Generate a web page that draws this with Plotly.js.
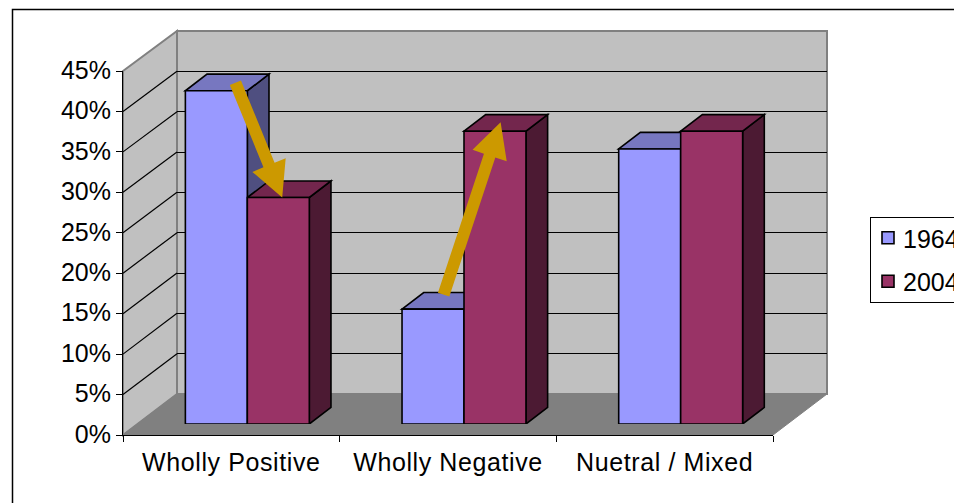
<!DOCTYPE html>
<html>
<head>
<meta charset="utf-8">
<script src="https://cdn.plot.ly/plotly-3.0.1.min.js"></script>
<style>
  html, body { margin: 0; padding: 0; background: #fff; overflow: hidden; width: 954px; height: 503px; }
  #chart { width: 1000px; height: 560px; }
  .x2tick text { letter-spacing: 0.6px; }
  .legend .bg { height: 85px; }
  .legend .legendtext { transform: translate(-8px, -3px); }
  .legend .legendpoints { transform: translate(-3px, -3px); }
</style>
</head>
<body>
<div id="chart"></div>
<script>
// Attitudes by year, percentage of coverage in each tone
const categories = ['Wholly Positive', 'Wholly Negative', 'Nuetral / Mixed'];
const years = ['1964', '2004'];
const values1964 = [41.2, 14.2, 34];
const values2004 = [28, 36.2, 36.2];
const yTicks = [0, 5, 10, 15, 20, 25, 30, 35, 40, 45];

// Trend arrows: category position and percentage at tail and tip
const arrowTails = [[-0.055, 42.2], [0.906, 16.0]];
const arrowTips = [[0.161, 28.0], [1.169, 37.3]];

const W = 1000, H = 560;
const FONT = 'Liberation Sans, Arial, sans-serif';

// Drawing planes of the fake-3D box, in page pixels
const front = { l: 123, r: 773, b: 435, t: 71 };
const back = { l: 177, r: 827, b: 394, t: 31 };
const barPlane = { l: 139, r: 789, b: 424, t: 60 };

const fx = p => p / W;
const fy = p => 1 - p / H;
const domX = q => [fx(q.l), fx(q.r)];
const domY = q => [fy(q.b), fy(q.t)];
const yPx = (q, v) => q.b + (q.t - q.b) * v / 45;

const BAR_WIDTH = 0.286;
const DEPTH_X = 0.1, DEPTH_Y = 2.05;
const faces = [
  { fill: '#9999FF', top: '#7777C0', side: '#4F4F80' },
  { fill: '#993366', top: '#73264D', side: '#4C1A33' }
];

function poly(points, fill, lineColor, lineWidth) {
  const d = points.map((p, i) => (i ? 'L' : 'M') + fx(p[0]) + ',' + fy(p[1])).join(' ') + ' Z';
  return {
    type: 'path', xref: 'paper', yref: 'paper', layer: 'below', path: d,
    fillcolor: fill, line: { color: lineColor, width: lineWidth }
  };
}

function segment(x0, y0, x1, y1, color, width) {
  return {
    type: 'line', xref: 'paper', yref: 'paper', layer: 'below',
    x0: fx(x0), y0: fy(y0), x1: fx(x1), y1: fy(y1), line: { color: color, width: width }
  };
}

const shapes = [];

// Outer chart-area frame, running past the right and bottom of the page
shapes.push(poly([[12.5, 9.5], [1100, 9.5], [1100, 700], [12.5, 700]], '#FFFFFF', '#000000', 1.5));

// Walls and floor
shapes.push(poly([[back.l, back.t], [back.r, back.t], [back.r, back.b], [back.l, back.b]], '#C0C0C0', '#808080', 2));
shapes.push(poly([[front.l, front.t], [back.l, back.t], [back.l, back.b], [front.l, front.b]], '#C0C0C0', '#808080', 2));
shapes.push(poly([[front.l, front.b], [back.l, back.b], [back.r, back.b], [front.r, front.b]], '#808080', '#808080', 1));

// Side-wall gridlines slanting from the front axis to the back wall
yTicks.slice(1, -1).forEach(v => {
  shapes.push(segment(front.l, yPx(front, v), back.l, yPx(back, v), '#000000', 1.2));
});

// Depth faces of each bar, drawn through the bar axes
function depthFaces(vals, seriesIndex) {
  vals.forEach((v, i) => {
    const left = i - BAR_WIDTH + seriesIndex * BAR_WIDTH;
    const right = left + BAR_WIDTH;
    const common = { type: 'path', xref: 'x3', yref: 'y3', layer: 'below', line: { color: '#000000', width: 1.6 } };
    shapes.push(Object.assign({}, common, {
      fillcolor: faces[seriesIndex].side,
      path: `M${right},0 L${right + DEPTH_X},${DEPTH_Y} L${right + DEPTH_X},${v + DEPTH_Y} L${right},${v} Z`
    }));
    shapes.push(Object.assign({}, common, {
      fillcolor: faces[seriesIndex].top,
      path: `M${left},${v} L${left + DEPTH_X},${v + DEPTH_Y} L${right + DEPTH_X},${v + DEPTH_Y} L${right},${v} Z`
    }));
  });
}
depthFaces(values1964, 0);
depthFaces(values2004, 1);

// Block arrows over the bars
const catPx = c => barPlane.l + (c + 0.5) * (barPlane.r - barPlane.l) / 3;
function blockArrow(tail, tip) {
  const a = [catPx(tail[0]), yPx(barPlane, tail[1])];
  const b = [catPx(tip[0]), yPx(barPlane, tip[1])];
  const len = Math.hypot(b[0] - a[0], b[1] - a[1]);
  const u = [(b[0] - a[0]) / len, (b[1] - a[1]) / len];
  const n = [-u[1], u[0]];
  const shaft = 6, head = 18, headLen = 35;
  const at = (along, across) => [a[0] + u[0] * along + n[0] * across, a[1] + u[1] * along + n[1] * across];
  const base = len - headLen;
  const s = poly([at(0, shaft), at(base, shaft), at(base, head), at(len, 0), at(base, -head), at(base, -shaft), at(0, -shaft)],
    '#CC9900', '#CC9900', 0);
  s.layer = 'above';
  return s;
}
arrowTails.forEach((t, i) => shapes.push(blockArrow(t, arrowTips[i])));

const barX = categories.map((_, i) => i);
const traces = [
  // Invisible carriers so the back-wall and front axes get drawn
  { type: 'scatter', x: [0], y: [0], xaxis: 'x', yaxis: 'y', mode: 'none', showlegend: false, hoverinfo: 'skip' },
  { type: 'scatter', x: [categories[0]], y: [0], xaxis: 'x2', yaxis: 'y2', mode: 'none', showlegend: false, hoverinfo: 'skip' },
  {
    type: 'bar', name: years[0], x: barX, y: values1964, xaxis: 'x3', yaxis: 'y3', legendgroup: 'a',
    marker: { color: faces[0].fill, line: { color: '#000000', width: 1.6 } }
  },
  {
    type: 'bar', name: years[1], x: barX, y: values2004, xaxis: 'x3', yaxis: 'y3', legendgroup: 'b',
    marker: { color: faces[1].fill, line: { color: '#000000', width: 1.6 } }
  }
];

const hidden = { visible: false, fixedrange: true };
const tickFont = { family: FONT, size: 25, color: '#000000' };

const layout = {
  width: W, height: H,
  margin: { l: 0, r: 0, t: 0, b: 0, pad: 0 },
  paper_bgcolor: '#FFFFFF',
  plot_bgcolor: 'rgba(0,0,0,0)',
  barmode: 'group',
  bargap: 1 - 2 * BAR_WIDTH,
  bargroupgap: 0,
  showlegend: true,
  legend: {
    x: fx(870), y: fy(217), xanchor: 'left', yanchor: 'top',
    bgcolor: '#FFFFFF', bordercolor: '#000000', borderwidth: 1,
    font: tickFont, traceorder: 'grouped', tracegroupgap: 8, itemclick: false, itemdoubleclick: false
  },
  // Back-wall gridlines
  xaxis: Object.assign({ domain: domX(back), range: [0, 1], anchor: 'y' }, hidden),
  yaxis: {
    domain: domY(back), range: [0, 45], anchor: 'x', tickvals: yTicks.slice(1, -1),
    showgrid: true, gridcolor: '#000000', gridwidth: 1, showline: false, zeroline: false,
    showticklabels: false, ticks: '', fixedrange: true
  },
  // Front axes with the visible labels
  xaxis2: {
    domain: domX(front), anchor: 'y2', type: 'category', categoryorder: 'array', categoryarray: categories,
    range: [-0.5, 2.5], tickson: 'boundaries', ticks: 'outside', ticklen: 6, tickcolor: '#000000', tickwidth: 1,
    showline: true, linecolor: '#000000', linewidth: 1, showgrid: false, zeroline: false,
    tickfont: tickFont, ticklabelstandoff: 5, fixedrange: true
  },
  yaxis2: {
    domain: domY(front), anchor: 'x2', range: [0, 45], tickvals: yTicks,
    ticktext: yTicks.map(v => v + '%'), ticks: 'outside', ticklen: 6, tickcolor: '#000000', tickwidth: 1,
    showline: true, linecolor: '#000000', linewidth: 1, showgrid: false, zeroline: false,
    tickfont: tickFont, ticklabelstandoff: 0, ticklabelshift: -1, fixedrange: true
  },
  // Bar plane, set back from the front axes
  xaxis3: Object.assign({ domain: domX(barPlane), range: [-0.5, 2.5], anchor: 'y3' }, hidden),
  yaxis3: Object.assign({ domain: domY(barPlane), range: [0, 45], anchor: 'x3' }, hidden),
  shapes: shapes
};

Plotly.newPlot('chart', traces, layout, { displayModeBar: false, staticPlot: true });
</script>
</body>
</html>
